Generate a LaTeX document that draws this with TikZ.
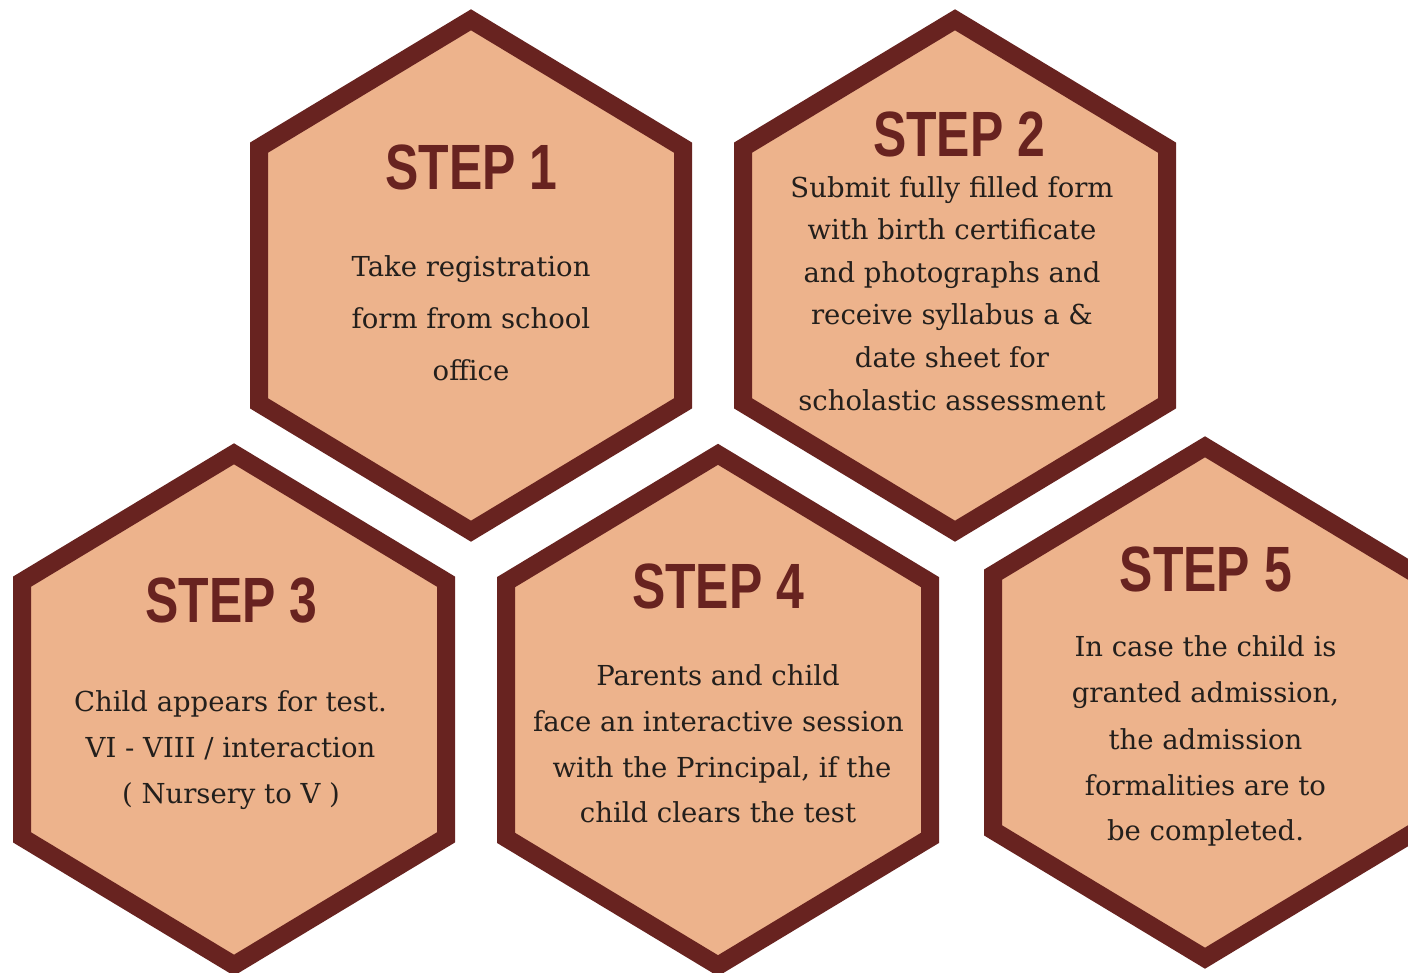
\documentclass[tikz,border=0pt]{standalone}
\usepackage{fontspec}
\usepackage{graphicx}
\setmainfont{DejaVu Serif}
\newfontfamily\headfont{Liberation Sans}
\definecolor{hexfill}{RGB}{237,179,140}
\definecolor{hexline}{RGB}{104,35,32}
\definecolor{bodytext}{RGB}{35,31,28}
\newcommand\hexcell[2]{\draw[hexagon] (#1,#2) ++(0,-255.7) -- ++(212,127.85) -- ++(0,255.7) -- ++(-212,127.85) -- ++(-212,-127.85) -- ++(0,-255.7) -- cycle;}
\newcommand\steplabel[1]{\scalebox{0.78}[1]{#1}}
\begin{document}
\begin{tikzpicture}[x=1pt,y=-1pt,
  hexagon/.style={fill=hexfill,draw=hexline,line width=18pt,line join=miter},
  steptitle/.style={anchor=base,inner sep=0pt,text=hexline,font=\headfont\bfseries\fontsize{64}{64}\selectfont},
  bodyline/.style={anchor=base,inner sep=0pt,text=bodytext,font=\fontsize{27.5}{33}\selectfont}]
\useasboundingbox (0,0) rectangle (1408,972);
\clip (0,0) rectangle (1408,972);
\fill[white] (0,0) rectangle (1408,972);
% hexagons
\hexcell{471}{275.5}
\hexcell{955}{275.5}
\hexcell{234}{709.5}
\hexcell{718}{710}
\hexcell{1205}{702.5}
% step 1
\node[steptitle] (t1) at (471.5,189.3) {\steplabel{STEP 1}};
\node[bodyline] (s1a) at (471,276) {Take registration};
\node[bodyline] (s1b) at (471,328) {form from school};
\node[bodyline] (s1c) at (471,380) {office};
% step 2
\node[steptitle] (t2) at (959,156.4) {\steplabel{STEP 2}};
\node[bodyline] (s2a) at (952,197) {Submit fully filled form};
\node[bodyline] (s2b) at (952,239) {with birth certificate};
\node[bodyline] (s2c) at (952,282) {and photographs and};
\node[bodyline] (s2d) at (952,324.5) {receive syllabus a \&};
\node[bodyline] (s2e) at (952,367) {date sheet for};
\node[bodyline] (s2f) at (952,410) {scholastic assessment};
% step 3
\node[steptitle] (t3) at (231.5,622.5) {\steplabel{STEP 3}};
\node[bodyline] (s3a) at (230.5,711.5) {Child appears for test.};
\node[bodyline] (s3b) at (230.5,757.5) {VI - VIII / interaction};
\node[bodyline] (s3c) at (231,803) {( Nursery to V )};
% step 4
\node[steptitle] (t4) at (718,608.7) {\steplabel{STEP 4}};
\node[bodyline] (s4a) at (718,685) {Parents and child};
\node[bodyline] (s4b) at (718.5,731) {face an interactive session};
\node[bodyline] (s4c) at (722,777) {with the Principal, if the};
\node[bodyline] (s4d) at (718,822.5) {child clears the test};
% step 5
\node[steptitle] (t5) at (1205.8,591.4) {\steplabel{STEP 5}};
\node[bodyline] (s5a) at (1205.5,656.5) {In case the child is};
\node[bodyline] (s5b) at (1205.5,702.7) {granted admission,};
\node[bodyline] (s5c) at (1205.5,749) {the admission};
\node[bodyline] (s5d) at (1205.5,795) {formalities are to};
\node[bodyline] (s5e) at (1205.5,840.6) {be completed.};
\end{tikzpicture}
\end{document}
